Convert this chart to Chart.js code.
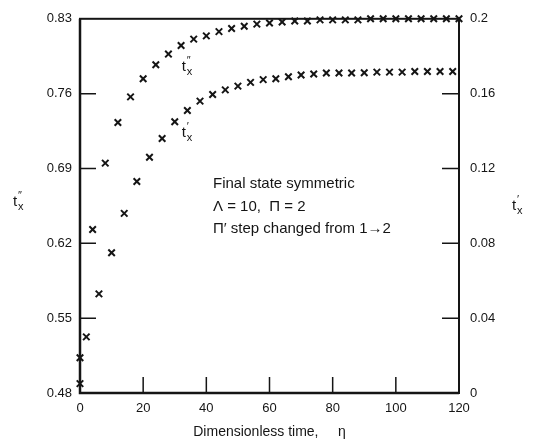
<!DOCTYPE html>
<html>
<head>
<meta charset="utf-8">
<script src="https://cdn.jsdelivr.net/npm/chart.js@4"></script>
<style>
  html, body { margin: 0; padding: 0; background: #fff; }
  #wrap { width: 533px; height: 445px; }
</style>
</head>
<body>
<div id="wrap"><canvas id="chart" width="533" height="445"></canvas></div>
<script>
// eta values for the two curves
const etaUpper = [0, 4, 8, 12, 16, 20, 24, 28, 32, 36, 40, 44, 48, 52, 56, 60,
                  64, 68, 72, 76, 80, 84, 88, 92, 96, 100, 104, 108, 112, 116, 120];
const txUpper  = [0.513, 0.633, 0.695, 0.733, 0.757, 0.774, 0.787, 0.797, 0.805, 0.811,
                  0.814, 0.818, 0.821, 0.823, 0.825, 0.826, 0.827, 0.828, 0.828, 0.829,
                  0.829, 0.829, 0.829, 0.830, 0.830, 0.830, 0.830, 0.830, 0.830, 0.830, 0.830];

const etaLower = [0, 2, 6, 10, 14, 18, 22, 26, 30, 34, 38, 42, 46, 50, 54, 58,
                  62, 66, 70, 74, 78, 82, 86, 90, 94, 98, 102, 106, 110, 114, 118];
const txLower  = [0.005, 0.030, 0.053, 0.075, 0.096, 0.113, 0.126, 0.136, 0.145, 0.151,
                  0.156, 0.1595, 0.162, 0.164, 0.166, 0.1675, 0.168, 0.169, 0.170, 0.1705,
                  0.171, 0.171, 0.171, 0.1712, 0.1715, 0.1715, 0.1715, 0.1718, 0.1718, 0.1718, 0.1718];

const xTicks = [0, 20, 40, 60, 80, 100, 120];
const leftTicks = [0.48, 0.55, 0.62, 0.69, 0.76, 0.83];
const rightTicks = [0, 0.04, 0.08, 0.12, 0.16, 0.2];
const rightLabels = ['0', '0.04', '0.08', '0.12', '0.16', '0.2'];

const noteLines = ['Final state symmetric', 'Λ = 10,  Π = 2', 'Π′ step changed from 1→2'];

const ink = '#151515';
const fontFam = '"Liberation Sans", Arial, sans-serif';

function toPoints(xs, ys) {
  return xs.map(function (x, i) { return {x: x, y: ys[i]}; });
}

// t with a prime mark and an x subscript
function drawT(ctx, x, y, prime) {
  ctx.textAlign = 'left';
  ctx.textBaseline = 'alphabetic';
  ctx.font = '15px ' + fontFam;
  ctx.fillText('t', x, y);
  ctx.font = '11px ' + fontFam;
  ctx.fillText(prime, x + 5, y - 7);
  ctx.fillText('x', x + 5, y + 4);
}

const inkPlugin = {
  id: 'ink',
  afterDraw(chart) {
    const ctx = chart.ctx;
    const a = chart.chartArea;
    const sx = chart.scales.x, sy = chart.scales.y, sy1 = chart.scales.y1;
    ctx.save();
    ctx.strokeStyle = ink;
    ctx.fillStyle = ink;
    ctx.lineWidth = 2;
    ctx.strokeRect(a.left, a.top, a.right - a.left, a.bottom - a.top);
    ctx.lineWidth = 2.5;
    ctx.beginPath();
    ctx.moveTo(a.left, a.top); ctx.lineTo(a.left, a.bottom); ctx.lineTo(a.right, a.bottom);
    ctx.stroke();

    // ticks pointing into the plot
    ctx.lineWidth = 1.5;
    ctx.beginPath();
    xTicks.slice(1, -1).forEach(function (v) {
      const px = sx.getPixelForValue(v);
      ctx.moveTo(px, a.bottom); ctx.lineTo(px, a.bottom - 16);
    });
    leftTicks.slice(1, -1).forEach(function (v) {
      const py = sy.getPixelForValue(v);
      ctx.moveTo(a.left, py); ctx.lineTo(a.left + 16, py);
    });
    rightTicks.slice(1, -1).forEach(function (v) {
      const py = sy1.getPixelForValue(v);
      ctx.moveTo(a.right, py); ctx.lineTo(a.right - 17, py);
    });
    ctx.stroke();

    // curve labels
    drawT(ctx, sx.getPixelForValue(32.2), sy.getPixelForValue(0.781), '″');
    drawT(ctx, sx.getPixelForValue(32.2), sy1.getPixelForValue(0.137), '′');

    // axis titles
    drawT(ctx, 13, 206, '″');
    drawT(ctx, 512, 210, '′');

    // note
    ctx.font = '15px ' + fontFam;
    ctx.textAlign = 'left';
    ctx.textBaseline = 'middle';
    noteLines.forEach(function (t, i) {
      ctx.fillText(t, 213, 184 + i * 22.5);
    });
    ctx.restore();
  }
};

const tickFont = {family: fontFam, size: 13};

new Chart(document.getElementById('chart'), {
  type: 'scatter',
  data: {
    datasets: [
      {
        label: "t_x''",
        data: toPoints(etaUpper, txUpper),
        yAxisID: 'y',
        pointStyle: 'crossRot',
        pointRadius: 4.6,
        borderColor: ink,
        backgroundColor: ink,
        pointBorderWidth: 2,
        clip: false
      },
      {
        label: "t_x'",
        data: toPoints(etaLower, txLower),
        yAxisID: 'y1',
        pointStyle: 'crossRot',
        pointRadius: 4.6,
        borderColor: ink,
        backgroundColor: ink,
        pointBorderWidth: 2,
        clip: false
      }
    ]
  },
  options: {
    responsive: false,
    animation: false,
    layout: {padding: {top: 16, left: 0, right: 0, bottom: 0}},
    plugins: {legend: {display: false}, tooltip: {enabled: false}},
    scales: {
      x: {
        type: 'linear',
        min: 0, max: 120,
        grid: {display: false, drawTicks: false},
        border: {display: false},
        afterBuildTicks: function (s) { s.ticks = xTicks.map(function (v) { return {value: v}; }); },
        afterFit: function (s) { s.height = 52; },
        ticks: {color: ink, font: tickFont, padding: 8, maxRotation: 0,
                callback: function (v) { return String(v); }},
        title: {display: true, text: 'Dimensionless time,     η', color: ink,
                font: {family: fontFam, size: 14}, padding: {top: 0, bottom: 4}}
      },
      y: {
        type: 'linear', position: 'left',
        min: 0.48, max: 0.83,
        grid: {display: false, drawTicks: false},
        border: {display: false},
        afterBuildTicks: function (s) { s.ticks = leftTicks.map(function (v) { return {value: v}; }); },
        afterFit: function (s) { s.width = 80; },
        ticks: {color: ink, font: tickFont, padding: 8,
                callback: function (v) { return v.toFixed(2); }}
      },
      y1: {
        type: 'linear', position: 'right',
        min: 0, max: 0.2,
        grid: {display: false, drawTicks: false},
        border: {display: false},
        afterBuildTicks: function (s) { s.ticks = rightTicks.map(function (v) { return {value: v}; }); },
        afterFit: function (s) { s.width = 74; },
        ticks: {color: ink, font: tickFont, padding: 11,
                callback: function (v, i) { return rightLabels[i]; }}
      }
    }
  },
  plugins: [inkPlugin]
});
</script>
</body>
</html>
